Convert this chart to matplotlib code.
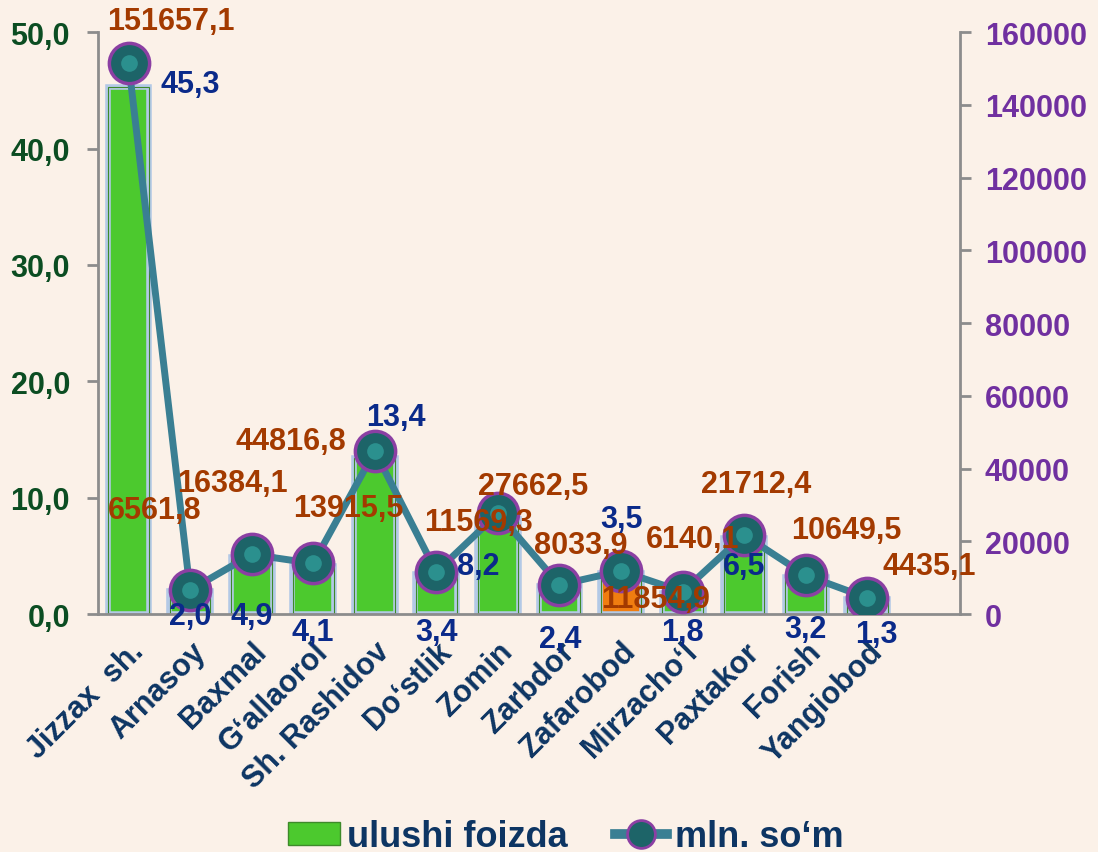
import matplotlib.pyplot as plt
from matplotlib.patches import Patch
from matplotlib.lines import Line2D
from matplotlib.transforms import ScaledTranslation
import numpy as np

plt.rcParams['font.family'] = ['Liberation Sans', 'DejaVu Sans']

# data
districts = ["Jizzax  sh.", "Arnasoy", "Baxmal", "G\u2018allaorol", "Sh. Rashidov", "Do\u2018stlik",
             "Zomin", "Zarbdor", "Zafarobod", "Mirzacho\u2018l", "Paxtakor", "Forish", "Yangiobod"]
share_pct = [45.3, 2.0, 4.9, 4.1, 13.4, 3.4, 8.2, 2.4, 3.5, 1.8, 6.5, 3.2, 1.3]
mln_som = [151657.1, 6561.8, 16384.1, 13915.5, 44816.8, 11569.3, 27662.5,
           8033.9, 11854.9, 6140.1, 21712.4, 10649.5, 4435.1]

# label offsets in pixels (layout only)
som_off = [(42, 42), (-35, 80), (-19, 71), (35, 55), (-84, 10), (42, 50), (35, 27),
           (21, 40), (35, -28), (10, 53), (12, 51), (41, 45), (62, 32)]
pct_off = [(62, 3), (0, -25), (0, -59), (0, -66), (21, 41), (0, -58), (-20, -47),
           (1, -53), (0, 54), (0, -39), (0, -28), (0, -52), (9, -35)]

bg = '#fbf1e8'
green = '#4cc92e'
orange_txt = '#a33a00'
blue_txt = '#0a2a8a'
navy = '#0d3563'
line_col = '#3a7f93'

fig = plt.figure(figsize=(10.98, 8.53), dpi=100, facecolor=bg)
ax = fig.add_axes([0.089, 0.279, 0.785, 0.682])
ax.set_facecolor(bg)
x = np.arange(len(districts))

bar_colors = [green] * len(districts)
bar_colors[districts.index("Zafarobod")] = '#f07d10'
ax.bar(x, share_pct, width=0.68, color=bar_colors, edgecolor='#b3c9e6', linewidth=4, zorder=2)
ax.bar(x, share_pct, width=0.66, color='none', edgecolor='#3e8a2a', linewidth=0.8, zorder=2)

ax.set_ylim(0, 50)
ax.set_xlim(-0.5, 13.5)
ax.set_yticks(np.arange(0, 51, 10))
ax.set_yticklabels([f"{v:.1f}".replace('.', ',') for v in np.arange(0, 51, 10)],
                   fontsize=22, fontweight='bold', color='#0b4d22')
ax.set_xticks(x)
ax.set_xticklabels(districts, rotation=45, ha='right', rotation_mode='anchor',
                   fontsize=22, fontweight='bold', color=navy)
shift = ScaledTranslation(-2 / 72, 0, fig.dpi_scale_trans)
for lab in ax.get_xticklabels():
    lab.set_transform(lab.get_transform() + shift)
ax.tick_params(axis='x', length=0, pad=16)
ax.tick_params(axis='y', color='#8c8c8c', length=8, width=2, pad=12)
for s in ['top', 'right']:
    ax.spines[s].set_visible(False)
for s in ['left', 'bottom']:
    ax.spines[s].set_color('#8c8c8c')
    ax.spines[s].set_linewidth(2)

ax2 = ax.twinx()
ax2.set_ylim(0, 160000)
ax2.plot(x, mln_som, color=line_col, linewidth=5, zorder=3)
ax2.plot(x, mln_som, linestyle='none', marker='o', markersize=29,
         markerfacecolor='#1d6468', markeredgecolor='#8b3fa3', markeredgewidth=2.5, zorder=4)
ax2.plot(x, mln_som, linestyle='none', marker='o', markersize=12,
         markerfacecolor='#2f9c98', markeredgecolor='none', alpha=0.8, zorder=5)
ax2.set_yticks(np.arange(0, 160001, 20000))
ax2.set_yticklabels([str(v) for v in range(0, 160001, 20000)],
                    fontsize=22, fontweight='bold', color='#7030a0')
ax2.tick_params(axis='y', color='#8c8c8c', length=8, width=2, pad=10)
for s in ['top', 'left', 'bottom']:
    ax2.spines[s].set_visible(False)
ax2.spines['right'].set_color('#8c8c8c')
ax2.spines['right'].set_linewidth(2)

for i, v in enumerate(mln_som):
    ax2.annotate(f"{v:.1f}".replace('.', ','), (x[i], v), xytext=som_off[i],
                 textcoords='offset pixels', ha='center', va='center',
                 fontsize=22, fontweight='bold', color=orange_txt, zorder=6)
for i, v in enumerate(share_pct):
    ax2.annotate(f"{v:.1f}".replace('.', ','), (x[i], v * 3200), xytext=pct_off[i],
                 textcoords='offset pixels', ha='center', va='center',
                 fontsize=22, fontweight='bold', color=blue_txt, zorder=6)

handles = [Patch(facecolor=green, edgecolor='#3e8a2a'),
           Line2D([0], [0], color=line_col, linewidth=7, marker='o', markersize=20,
                  markerfacecolor='#1d6468', markeredgecolor='#8b3fa3', markeredgewidth=2)]
fig.legend(handles, ["ulushi foizda", "mln. so\u2018m"], loc='center',
           bbox_to_anchor=(0.515, 0.018), ncol=2, frameon=False, handlelength=1.45,
           handleheight=0.6, columnspacing=1.3, handletextpad=0.2,
           prop={'size': 26, 'weight': 'bold'}, labelcolor=navy)

fig.savefig('out.png', dpi=100, facecolor=bg)
